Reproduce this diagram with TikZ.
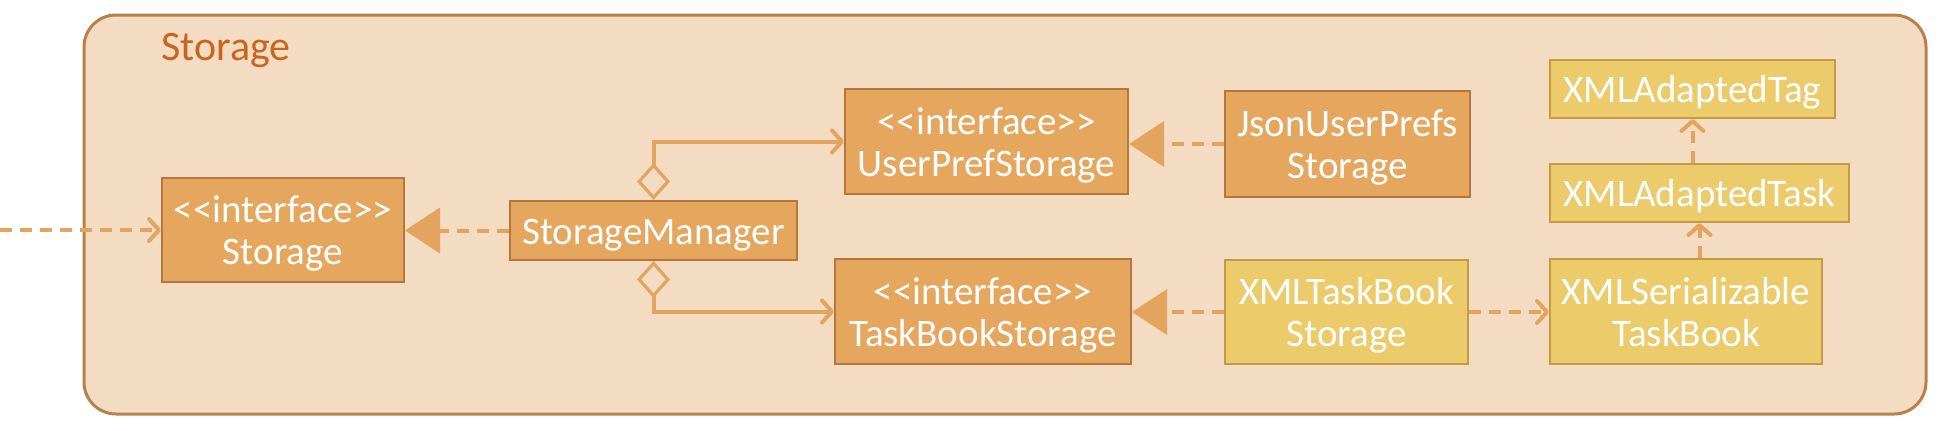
\documentclass[tikz,border=0pt]{standalone}
\usepackage{fontspec}
\setmainfont{Carlito}[Ligatures=TeXOff]
\usetikzlibrary{arrows.meta}

\definecolor{pkgfill}{HTML}{F3DCC2}
\definecolor{pkgline}{HTML}{B8814A}
\definecolor{pkgtitle}{HTML}{C8651E}
\definecolor{ifacefill}{HTML}{E5A65E}
\definecolor{ifaceline}{HTML}{B9763A}
\definecolor{xmlfill}{HTML}{ECCB6B}
\definecolor{xmlline}{HTML}{C59A45}
\definecolor{linkcol}{HTML}{E2A45E}

\tikzset{
  cls/.style={draw=ifaceline, fill=ifacefill, line width=1pt, text=white, align=center,
    inner sep=0pt, font=\fontsize{19.5}{21}\selectfont,
    execute at begin node={\rule{0pt}{17.5pt}},
    execute at end node={\rule[-4pt]{0pt}{4pt}}},
  xml/.style={cls, draw=xmlline, fill=xmlfill},
  dep/.style={draw=linkcol, line width=2pt, dash pattern=on 6pt off 4pt,
    -{Straight Barb[length=5pt,width=11pt,round]}},
  real/.style={draw=linkcol, line width=2pt, dash pattern=on 6pt off 4pt,
    -{Triangle[length=17.5pt,width=23pt,fill=linkcol,line width=0pt]}},
  aggr/.style={draw=linkcol, line width=2pt,
    {Diamond[open,length=18.5pt,width=16.5pt,line width=1.6pt]}-{Straight Barb[length=5pt,width=11pt,round]}}
}

\begin{document}
\begin{tikzpicture}[x=0.5pt,y=-0.5pt]
    \useasboundingbox (0,0) rectangle (1939,430);

    % First the package frame
    \draw [pkgline, fill=pkgfill, line width=1.5pt, rounded corners=16pt] (84,15) rectangle (1926,414);
    \node [anchor=base west, inner sep=0pt, text=pkgtitle, font=\fontsize{21}{25}\selectfont] (title) at (161,60) {Storage};

    % Now the classes
    \node [cls, text width=121pt, minimum height=52pt] (storage) at (283,230) {<<interface>>\\Storage};
    \node [cls, text width=143.5pt, minimum height=29.5pt] (manager) at (653.5,230.5) {StorageManager};
    \node [cls, text width=141.5pt, minimum height=52.5pt] (userpref) at (986.5,141.5) {<<interface>>\\UserPrefStorage};
    \node [cls, text width=148pt, minimum height=52.5pt] (taskbook) at (983,311.5) {<<interface>>\\TaskBookStorage};
    \node [cls, text width=122.5pt, minimum height=53pt] (jsonprefs) at (1347.5,144) {JsonUserPrefs\\Storage};
    \node [xml, text width=121.5pt, minimum height=52pt] (xmltaskbook) at (1346.5,312) {XMLTaskBook\\Storage};
    \node [xml, text width=136pt, minimum height=52.5pt] (serial) at (1686,311.5) {XMLSerializable\\TaskBook};
    \node [xml, text width=149.5pt, minimum height=29pt] (adtask) at (1699.5,193) {XMLAdaptedTask};
    \node [xml, text width=142.5pt, minimum height=29pt] (adtag) at (1692.5,89) {XMLAdaptedTag};

    % Now the links
    \coordinate (outside) at (0,230);
    \draw [dep] (outside) -- (storage.west);
    \draw [real] (manager.west) -- (manager.west -| storage.east);
    \draw [aggr] (manager.north) |- (userpref.west);
    \draw [aggr] (manager.south) |- (taskbook.west);
    \draw [real] (jsonprefs.west) -- (jsonprefs.west -| userpref.east);
    \draw [real] (xmltaskbook.west) -- (xmltaskbook.west -| taskbook.east);
    \draw [dep] (xmltaskbook.east) -- (xmltaskbook.east -| serial.west);
    \draw [dep] (adtask.south |- serial.north) -- (adtask.south);
    \draw [dep] (adtag.south |- adtask.north) -- (adtag.south);

\end{tikzpicture}
\end{document}
